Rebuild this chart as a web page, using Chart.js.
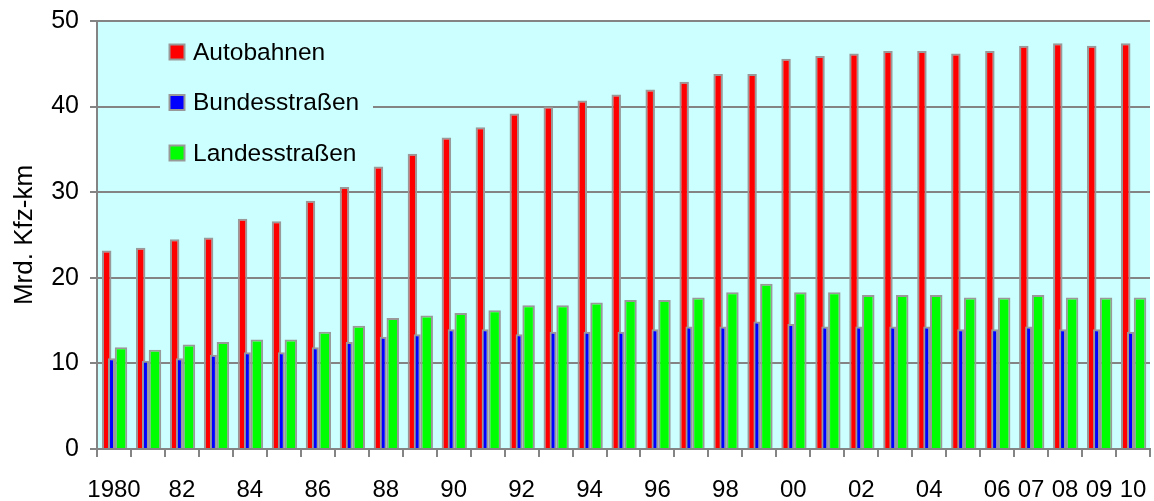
<!DOCTYPE html>
<html>
<head>
<meta charset="utf-8">
<script src="https://cdn.jsdelivr.net/npm/chart.js@4"></script>
<style>
  html, body { margin: 0; padding: 0; background: #fff; }
</style>
</head>
<body>
<canvas id="verkehrChart" width="1154" height="501"></canvas>
<script>
// Fahrleistungen nach Straßenklasse, Mrd. Kfz-km
const years = ['1980', '1981', '1982', '1983', '1984', '1985', '1986', '1987', '1988', '1989',
    '1990', '1991', '1992', '1993', '1994', '1995', '1996', '1997', '1998', '1999',
    '2000', '2001', '2002', '2003', '2004', '2005', '2006', '2007', '2008', '2009', '2010'];
const tickLabels = ['1980', '', '82', '', '84', '', '86', '', '88', '', '90', '', '92', '', '94', '',
    '96', '', '98', '', '00', '', '02', '', '04', '', '06', '07', '08', '09', '10'];
const autobahnen = [23.2, 23.5, 24.5, 24.7, 26.9, 26.6, 29.0, 30.6, 33.0, 34.5, 36.4, 37.6, 39.2, 40.0, 40.7,
    41.4, 42.0, 42.9, 43.8, 43.8, 45.6, 45.9, 46.2, 46.5, 46.5, 46.2, 46.5, 47.1, 47.4, 47.1, 47.4];
const bundesstrassen = [10.6, 10.3, 10.6, 11.0, 11.3, 11.3, 11.9, 12.5, 13.1, 13.4, 14.0, 14.0, 13.4, 13.7, 13.7,
    13.7, 14.0, 14.3, 14.3, 14.9, 14.6, 14.3, 14.3, 14.3, 14.3, 14.0, 14.0, 14.3, 14.0, 14.0, 13.7];
const landesstrassen = [11.9, 11.6, 12.2, 12.5, 12.8, 12.8, 13.7, 14.4, 15.3, 15.6, 15.9, 16.2, 16.8, 16.8, 17.1,
    17.4, 17.4, 17.7, 18.3, 19.3, 18.3, 18.3, 18.0, 18.0, 18.0, 17.7, 17.7, 18.0, 17.7, 17.7, 17.7];

const FONT = '"Liberation Sans", Arial, sans-serif';
const GRID = '#848484';
const BORDER = '#999999';

// cyan plot background
const plotBackground = {
    id: 'plotBackground',
    beforeDraw(chart, args, opts) {
        const { ctx, chartArea: a } = chart;
        ctx.save();
        ctx.fillStyle = opts.color;
        ctx.fillRect(a.left, a.top, a.right - a.left, a.bottom - a.top);
        ctx.restore();
    }
};

// legend sitting inside the plot, stacked vertically
const insideLegend = {
    id: 'insideLegend',
    beforeDatasetsDraw(chart, args, opts) {
        const ctx = chart.ctx;
        const items = chart.data.datasets
            .filter(d => d.label)
            .sort((a, b) => a.legendRank - b.legendRank);
        ctx.save();
        ctx.fillStyle = opts.background;
        ctx.fillRect(opts.boxLeft, opts.boxTop, opts.boxWidth, opts.boxHeight);
        ctx.font = opts.fontSize + 'px ' + FONT;
        ctx.textBaseline = 'middle';
        items.forEach((d, i) => {
            const y = opts.y + i * opts.rowHeight;
            const s = opts.swatch;
            ctx.fillStyle = d.backgroundColor;
            ctx.fillRect(opts.x - s / 2, y - s / 2, s, s);
            ctx.strokeStyle = BORDER;
            ctx.lineWidth = 2;
            ctx.strokeRect(opts.x - s / 2, y - s / 2, s, s);
            ctx.fillStyle = '#000';
            ctx.fillText(d.label, opts.textX, y + 1);
        });
        ctx.restore();
    }
};

// slot order inside each year: blue, red, (gap), green -- blue is drawn over red
const ctx = document.getElementById('verkehrChart').getContext('2d');
new Chart(ctx, {
    type: 'bar',
    data: {
        labels: years,
        datasets: [
            {
                label: 'Bundesstraßen',
                legendRank: 1,
                data: bundesstrassen,
                backgroundColor: '#0000ff',
                borderColor: BORDER,
                borderWidth: 2,
                categoryPercentage: 0.1947,
                barPercentage: 4.23
            },
            {
                label: 'Autobahnen',
                legendRank: 0,
                data: autobahnen,
                backgroundColor: '#ff0000',
                borderColor: BORDER,
                borderWidth: 2,
                categoryPercentage: 1.714,
                barPercentage: 0.652
            },
            {
                label: '',
                data: years.map(() => null),
                backgroundColor: 'rgba(0,0,0,0)',
                borderWidth: 0
            },
            {
                label: 'Landesstraßen',
                legendRank: 2,
                data: landesstrassen,
                backgroundColor: '#00ff00',
                borderColor: BORDER,
                borderWidth: 2,
                categoryPercentage: 0.551,
                barPercentage: 2.67
            }
        ]
    },
    options: {
        responsive: false,
        animation: false,
        devicePixelRatio: 1,
        layout: { padding: { left: 0, right: 4, top: 21, bottom: 0 } },
        plugins: {
            legend: { display: false },
            tooltip: { enabled: false },
            plotBackground: { color: '#ccffff' },
            insideLegend: {
                x: 177, textX: 193, y: 52, rowHeight: 50.5, swatch: 15, fontSize: 24.5,
                background: '#ccffff', boxLeft: 160, boxTop: 30, boxWidth: 213, boxHeight: 145
            }
        },
        scales: {
            x: {
                type: 'category',
                offset: true,
                grid: { offset: true, drawOnChartArea: false, drawTicks: true, tickLength: 8, color: GRID, lineWidth: 2 },
                border: { display: true, color: GRID, width: 2 },
                ticks: {
                    autoSkip: false, maxRotation: 0, minRotation: 0, padding: 19,
                    color: '#000', font: { family: FONT, size: 24 },
                    callback: (v, i) => tickLabels[i]
                },
                afterFit: s => { s.height = 52; s.paddingLeft = 0; s.paddingRight = 0; }
            },
            y: {
                min: 0,
                max: 50,
                ticks: { stepSize: 10, padding: 11, color: '#000', font: { family: FONT, size: 25 } },
                grid: { color: GRID, lineWidth: 2, tickLength: 7 },
                border: { display: true, color: GRID, width: 2 },
                title: {
                    display: true, text: 'Mrd. Kfz-km', color: '#000',
                    font: { family: FONT, size: 26 }, padding: { top: 9, bottom: 0 }
                },
                afterFit: s => { s.width = 97; s.paddingTop = 0; s.paddingBottom = 0; }
            }
        }
    },
    plugins: [plotBackground, insideLegend]
});
</script>
</body>
</html>
